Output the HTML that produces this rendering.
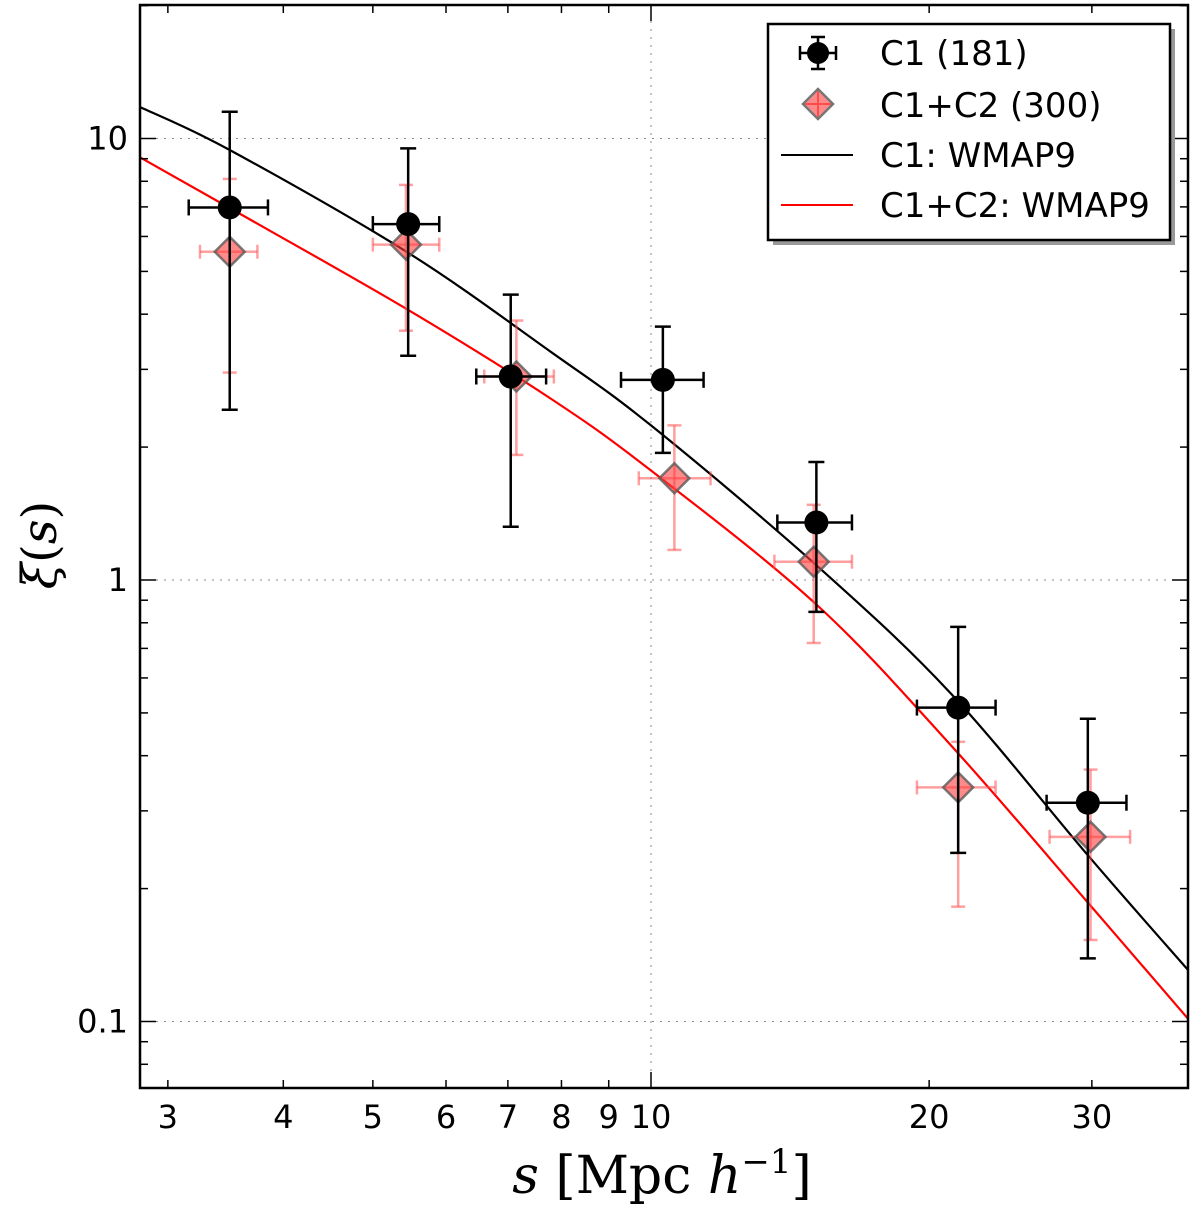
<!DOCTYPE html>
<html><head><meta charset="utf-8"><style>
body{margin:0;background:#fff;}
svg text{font-family:"DejaVu Sans","Liberation Sans",sans-serif;}
</style></head><body>
<svg id="chart" width="1200" height="1211" viewBox="0 0 1200 1211" xmlns="http://www.w3.org/2000/svg">
<g id="grid"></g>
<g id="curves"></g>
<g id="points"></g>
<rect x="140" y="5" width="1048" height="1083" fill="none" stroke="#000" stroke-width="2.5"/>
<g id="ticks"></g>
<text x="662" y="1193" text-anchor="middle" font-size="52" style="font-family:'DejaVu Serif','Liberation Serif',serif"><tspan font-style="italic">s</tspan> [Mpc <tspan font-style="italic">h</tspan><tspan font-size="34" dy="-20">−1</tspan><tspan dy="20">]</tspan></text>
<text transform="translate(56,545) rotate(-90)" text-anchor="middle" font-size="48" style="font-family:'DejaVu Serif','Liberation Serif',serif"><tspan font-style="italic">ξ</tspan>(<tspan font-style="italic">s</tspan>)</text>
<g>
<rect x="773" y="29" width="402" height="216" fill="#999"/>
<rect x="768" y="24" width="402" height="216" fill="#fff" stroke="#000" stroke-width="2.5"/>
<g>
<line x1="818" y1="37" x2="818" y2="69" stroke="#000" stroke-width="2.5"/><line x1="811" y1="37" x2="825" y2="37" stroke="#000" stroke-width="2.5"/><line x1="811" y1="69" x2="825" y2="69" stroke="#000" stroke-width="2.5"/>
<line x1="800" y1="53" x2="836" y2="53" stroke="#000" stroke-width="2.5"/><line x1="800" y1="46" x2="800" y2="60" stroke="#000" stroke-width="2.5"/><line x1="836" y1="46" x2="836" y2="60" stroke="#000" stroke-width="2.5"/>
<circle cx="818" cy="53" r="11" fill="#000"/>
<text x="880" y="65" font-size="34">C1 (181)</text></g>
<g>
<line x1="818" y1="88" x2="818" y2="120" stroke="#f66" stroke-width="2"/><line x1="802" y1="104" x2="834" y2="104" stroke="#f66" stroke-width="2"/>
<polygon points="818,89 833,104 818,119 803,104" fill="rgba(255,60,60,0.6)" stroke="#777" stroke-width="2.5"/>
<text x="880" y="117" font-size="34">C1+C2 (300)</text></g>
<g><line x1="781" y1="155" x2="853" y2="155" stroke="#000" stroke-width="2"/><text x="880" y="167" font-size="34">C1: WMAP9</text></g>
<g><line x1="781" y1="205" x2="853" y2="205" stroke="#f00" stroke-width="2"/><text x="880" y="217" font-size="34">C1+C2: WMAP9</text></g>
</g>
</svg>
<script>
const xTickValues=[3,4,5,6,7,8,9,10,20,30];
const xTickLabels=["3","4","5","6","7","8","9","10","20","30"];
const yTickValues=[0.1,1,10];
const yTickLabels=["0.1","1","10"];
const c1X=[3.5,5.46,7.05,10.3,15.1,21.5,29.7];
const c1Y=[6.98,6.4,2.89,2.84,1.35,0.514,0.313];
const c1YUp=[11.5,9.5,4.43,3.75,1.85,0.783,0.485];
const c1YDown=[2.43,3.22,1.32,1.94,0.847,0.241,0.139];
const c1XLo=[3.16,5.0,6.47,9.28,13.7,19.4,26.8];
const c1XHi=[3.85,5.9,7.7,11.4,16.5,23.6,32.7];
const c2X=[3.5,5.43,7.15,10.6,15.0,21.5,29.9];
const c2Y=[5.54,5.75,2.89,1.70,1.10,0.339,0.262];
const c2YUp=[8.1,7.85,3.87,2.24,1.48,0.43,0.372];
const c2YDown=[2.95,3.67,1.92,1.17,0.72,0.182,0.153];
const c2XLo=[3.25,5.0,6.6,9.7,13.6,19.4,27.0];
const c2XHi=[3.75,5.9,7.85,11.6,16.5,23.6,33.0];
const curveX=[2.8,3.5,5.46,7.8,10,15.1,21.1,29.7,38.1];
const curveC1=[11.78,9.42,5.51,3.28,2.24,1.08,0.554,0.238,0.131];
const curveC2=[9.06,6.96,4.09,2.57,1.77,0.88,0.423,0.186,0.1016];

const NS="http://www.w3.org/2000/svg";
function X(v){return 651+924*(Math.log10(v)-1);}
function Y(v){return 580-441.5*Math.log10(v);}
function mk(parent,tag,attrs){const e=document.createElementNS(NS,tag);for(const k in attrs)e.setAttribute(k,attrs[k]);document.getElementById(parent).appendChild(e);return e;}
[10].forEach(v=>{const l=mk('grid','line',{x1:X(v),x2:X(v),y1:5,y2:1088,stroke:'#888','stroke-width':1,'stroke-dasharray':'2,6'});

});
yTickValues.forEach(v=>{const l=mk('grid','line',{x1:140,x2:1188,y1:Y(v),y2:Y(v),stroke:'#888','stroke-width':1,'stroke-dasharray':'2,6'});

});
xTickValues.forEach((v,i)=>{const major=(v===10);const len=major?16:8;
const t1=mk('ticks','line',{x1:X(v),x2:X(v),y1:1088,y2:1088-len,stroke:'#000','stroke-width':1.5});


const t2=mk('ticks','line',{x1:X(v),x2:X(v),y1:5,y2:5+len,stroke:'#000','stroke-width':1.5});


const tx=mk('ticks','text',{x:X(v),y:1128,'text-anchor':'middle','font-size':32});tx.textContent=xTickLabels[i];

});
yTickValues.forEach((v,i)=>{
const t1=mk('ticks','line',{x1:140,x2:156,y1:Y(v),y2:Y(v),stroke:'#000','stroke-width':1.5});


const t2=mk('ticks','line',{x1:1172,x2:1188,y1:Y(v),y2:Y(v),stroke:'#000','stroke-width':1.5});


const tx=mk('ticks','text',{x:128,y:Y(v)+11,'text-anchor':'end','font-size':32});tx.textContent=yTickLabels[i];

});
[0.01,0.1,1,10].forEach(d=>{for(let m=2;m<=9;m++){const v=d*m;const y=Y(v);if(y<5||y>1088)continue;
const a=mk('ticks','line',{x1:140,x2:148,y1:y,y2:y,stroke:'#000','stroke-width':1.5});


const b=mk('ticks','line',{x1:1180,x2:1188,y1:y,y2:y,stroke:'#000','stroke-width':1.5});

}});
function smoothPath(xs,ys){
  const P=xs.map((x,i)=>[X(x),Y(ys[i])]);
  let d='M'+P[0][0].toFixed(1)+','+P[0][1].toFixed(1);
  for(let i=0;i<P.length-1;i++){
    const p0=P[Math.max(0,i-1)],p1=P[i],p2=P[i+1],p3=P[Math.min(P.length-1,i+2)];
    const c1=[p1[0]+(p2[0]-p0[0])/6,p1[1]+(p2[1]-p0[1])/6];
    const c2=[p2[0]-(p3[0]-p1[0])/6,p2[1]-(p3[1]-p1[1])/6];
    d+=' C'+c1[0].toFixed(1)+','+c1[1].toFixed(1)+' '+c2[0].toFixed(1)+','+c2[1].toFixed(1)+' '+p2[0].toFixed(1)+','+p2[1].toFixed(1);
  }
  return d;}
const p1=mk('curves','path',{d:smoothPath(curveX,curveC1),fill:'none',stroke:'#000','stroke-width':2.2});


const p2=mk('curves','path',{d:smoothPath(curveX,curveC2),fill:'none',stroke:'#f00','stroke-width':2.2});


c2X.forEach((x,i)=>{const cx=X(x),cy=Y(c2Y[i]);const col='rgba(255,80,80,0.55)';
const g=mk('points','g',{});


const seg=(a,b,c,d)=>{const l=document.createElementNS(NS,'line');l.setAttribute('x1',a);l.setAttribute('y1',b);l.setAttribute('x2',c);l.setAttribute('y2',d);l.setAttribute('stroke',col);l.setAttribute('stroke-width',2.5);g.appendChild(l);};
const yu=Y(c2YUp[i]),yd=Y(c2YDown[i]),xl=X(c2XLo[i]),xh=X(c2XHi[i]);
seg(cx,yu,cx,yd);seg(cx-7,yu,cx+7,yu);seg(cx-7,yd,cx+7,yd);
seg(xl,cy,xh,cy);seg(xl,cy-7,xl,cy+7);seg(xh,cy-7,xh,cy+7);
const d=document.createElementNS(NS,'polygon');d.setAttribute('points',`${cx},${cy-15} ${cx+15},${cy} ${cx},${cy+15} ${cx-15},${cy}`);
d.setAttribute('fill','rgba(255,60,60,0.6)');d.setAttribute('stroke','rgba(90,90,90,0.8)');d.setAttribute('stroke-width',2.5);g.appendChild(d);});
c1X.forEach((x,i)=>{const cx=X(x),cy=Y(c1Y[i]);const g=mk('points','g',{});


const seg=(a,b,c,d)=>{const l=document.createElementNS(NS,'line');l.setAttribute('x1',a);l.setAttribute('y1',b);l.setAttribute('x2',c);l.setAttribute('y2',d);l.setAttribute('stroke','#000');l.setAttribute('stroke-width',2.5);g.appendChild(l);};
const yu=Y(c1YUp[i]),yd=Y(c1YDown[i]),xl=X(c1XLo[i]),xh=X(c1XHi[i]);
seg(cx,yu,cx,yd);seg(cx-8,yu,cx+8,yu);seg(cx-8,yd,cx+8,yd);
seg(xl,cy,xh,cy);seg(xl,cy-8,xl,cy+8);seg(xh,cy-8,xh,cy+8);
const c=document.createElementNS(NS,'circle');c.setAttribute('cx',cx);c.setAttribute('cy',cy);c.setAttribute('r',12);c.setAttribute('fill','#000');g.appendChild(c);});
</script>
</body></html>
